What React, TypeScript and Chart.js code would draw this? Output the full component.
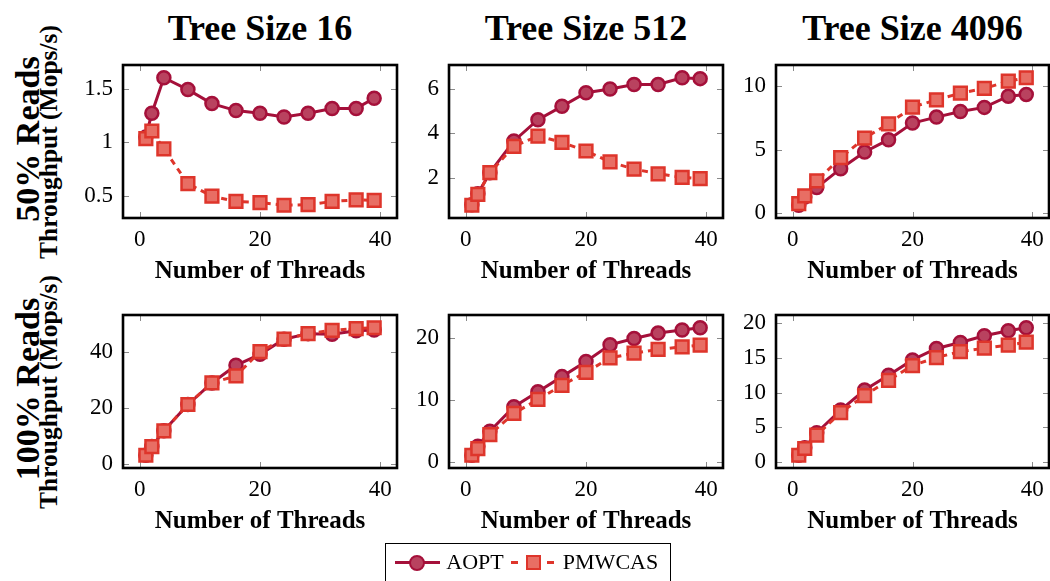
import React, { useEffect, useRef } from 'react';
import { Chart, registerables } from 'chart.js';

Chart.register(...registerables);

// ---------- data ----------
const threads = [1, 2, 4, 8, 12, 16, 20, 24, 28, 32, 36, 39];
const xTicks = [0, 20, 40];
const columnTitles = ['Tree Size 16', 'Tree Size 512', 'Tree Size 4096'];
const rowTitles = ['50% Reads', '100% Reads'];
const yAxisLabel = 'Throughput (Mops/s)';
const xAxisLabel = 'Number of Threads';
const seriesNames = ['AOPT', 'PMWCAS'];

const aopt50r16 = [1.05, 1.27, 1.6, 1.49, 1.36, 1.295, 1.27, 1.235, 1.27, 1.315, 1.315, 1.41];
const pmwcas50r16 = [1.035, 1.105, 0.94, 0.615, 0.5, 0.45, 0.44, 0.415, 0.42, 0.45, 0.465, 0.46];
const aopt50r512 = [0.8, 1.3, 2.24, 3.66, 4.61, 5.21, 5.82, 5.99, 6.19, 6.19, 6.49, 6.45];
const pmwcas50r512 = [0.78, 1.27, 2.24, 3.42, 3.88, 3.6, 3.21, 2.72, 2.4, 2.19, 2.03, 1.97];
const aopt50r4096 = [0.58, 1.24, 1.98, 3.48, 4.8, 5.78, 7.1, 7.57, 8.02, 8.34, 9.23, 9.37];
const pmwcas50r4096 = [0.71, 1.32, 2.51, 4.35, 5.91, 7.04, 8.36, 8.94, 9.47, 9.84, 10.42, 10.69];
const aopt100r16 = [2.98, 6.07, 11.7, 21.1, 28.8, 35.1, 39.0, 44.4, 46.4, 46.2, 47.4, 47.7];
const pmwcas100r16 = [2.98, 6.07, 11.7, 21.1, 28.8, 31.3, 40.0, 44.4, 46.4, 47.6, 48.2, 48.5];
const aopt100r512 = [1.13, 2.58, 5.0, 8.92, 11.34, 13.76, 16.18, 18.87, 19.89, 20.75, 21.24, 21.61];
const pmwcas100r512 = [1.13, 2.2, 4.46, 7.85, 10.1, 12.37, 14.46, 16.77, 17.53, 18.12, 18.55, 18.82];
const aopt100r4096 = [1.0, 2.07, 4.23, 7.5, 10.38, 12.5, 14.71, 16.35, 17.21, 18.17, 18.9, 19.33];
const pmwcas100r4096 = [1.0, 1.97, 3.89, 7.12, 9.57, 11.78, 13.89, 15.05, 15.91, 16.39, 16.83, 17.26];

const yTicks50r16 = [0.5, 1, 1.5];
const yTicks50r512 = [2, 4, 6];
const yTicks50r4096 = [0, 5, 10];
const yTicks100r16 = [0, 20, 40];
const yTicks100r512 = [0, 10, 20];
const yTicks100r4096 = [0, 5, 10, 15, 20];

// ---------- styles / layout ----------
const FONT = "'Liberation Serif', 'Times New Roman', serif";
const AOPT_STROKE = '#A5103A';
const AOPT_FILL = '#B9425F';
const PM_STROKE = '#DE352B';
const PM_FILL = '#E86E64';

const BOX_LEFTS = [123, 449, 776];
const BOX_WIDTHS = [274, 274, 273];
const BOX_TOPS = [65, 315];
const BOX_H = 153;
const YW = 70; // y axis width
const XH = 69; // x axis height
const PT = 30; // top padding
const PR = 16; // right padding

const framePlugin = {
  id: 'frame',
  beforeDatasetsDraw(chart: any) {
    const { ctx, chartArea: a, scales } = chart;
    const x = scales.x;
    const y = scales.y;
    const L = 6;
    ctx.save();
    ctx.strokeStyle = '#8a8a8a';
    ctx.lineWidth = 1;
    ctx.beginPath();
    for (const t of x.ticks) {
      const px = Math.round(x.getPixelForValue(t.value)) + 0.5;
      ctx.moveTo(px, a.bottom);
      ctx.lineTo(px, a.bottom - L);
      ctx.moveTo(px, a.top);
      ctx.lineTo(px, a.top + L);
    }
    for (const t of y.ticks) {
      const py = Math.round(y.getPixelForValue(t.value)) + 0.5;
      ctx.moveTo(a.left, py);
      ctx.lineTo(a.left + L, py);
      ctx.moveTo(a.right, py);
      ctx.lineTo(a.right - L, py);
    }
    ctx.stroke();
    ctx.strokeStyle = '#000';
    ctx.lineWidth = 2.6;
    ctx.strokeRect(a.left, a.top, a.right - a.left, a.bottom - a.top);
    ctx.restore();
  },
};

type PanelProps = {
  aopt: number[];
  pmwcas: number[];
  yTicks: number[];
  boxLeft: number;
  boxTop: number;
  boxWidth: number;
};

function Panel({ aopt, pmwcas, yTicks, boxLeft, boxTop, boxWidth }: PanelProps) {
  const ref = useRef<HTMLCanvasElement>(null);
  const W = YW + boxWidth + PR;
  const H = PT + BOX_H + XH;
  useEffect(() => {
    const all = [...aopt, ...pmwcas];
    const lo = Math.min(...all);
    const hi = Math.max(...all);
    const yPad = (hi - lo) * 0.1;
    const xLo = threads[0];
    const xHi = threads[threads.length - 1];
    const xPad = (xHi - xLo) * 0.1;
    const tickFont = { family: FONT, size: 23, weight: 'normal' as const };
    const chart = new Chart(ref.current as HTMLCanvasElement, {
      type: 'line',
      data: {
        datasets: [
          {
            label: seriesNames[0],
            data: threads.map((t, i) => ({ x: t, y: aopt[i] })),
            borderColor: AOPT_STROKE,
            backgroundColor: AOPT_FILL,
            borderWidth: 3,
            pointStyle: 'circle',
            pointRadius: 6.5,
            pointBorderWidth: 2.5,
            pointBackgroundColor: AOPT_FILL,
            pointBorderColor: AOPT_STROKE,
            tension: 0,
            clip: false as any,
            order: 1,
          },
          {
            label: seriesNames[1],
            data: threads.map((t, i) => ({ x: t, y: pmwcas[i] })),
            borderColor: PM_STROKE,
            backgroundColor: PM_FILL,
            borderWidth: 3,
            borderDash: [6, 5],
            pointStyle: 'rect',
            pointRadius: 9,
            pointBorderWidth: 2.5,
            pointBackgroundColor: PM_FILL,
            pointBorderColor: PM_STROKE,
            tension: 0,
            clip: false as any,
            order: 0,
          },
        ],
      },
      options: {
        animation: false,
        responsive: false,
        maintainAspectRatio: false,
        events: [],
        layout: { padding: { top: PT, right: PR, left: 0, bottom: 0 } },
        plugins: { legend: { display: false }, tooltip: { enabled: false } },
        scales: {
          x: {
            type: 'linear',
            min: xLo - xPad,
            max: xHi + xPad,
            afterBuildTicks: (s: any) => {
              s.ticks = xTicks.map((v) => ({ value: v }));
            },
            afterFit: (s: any) => {
              s.height = XH;
            },
            grid: { display: false, drawTicks: false },
            border: { display: false },
            ticks: {
              padding: 8,
              font: tickFont,
              color: '#000',
              maxRotation: 0,
              autoSkip: false,
              callback: (v: any) => String(v),
            },
            title: {
              display: true,
              text: xAxisLabel,
              color: '#000',
              font: { family: FONT, size: 25, weight: 'bold' },
              padding: { top: 0, bottom: 0 },
            },
          },
          y: {
            type: 'linear',
            min: lo - yPad,
            max: hi + yPad,
            afterBuildTicks: (s: any) => {
              s.ticks = yTicks.map((v) => ({ value: v }));
            },
            afterFit: (s: any) => {
              s.width = YW;
            },
            grid: { display: false, drawTicks: false },
            border: { display: false },
            ticks: {
              padding: 10,
              font: tickFont,
              color: '#000',
              autoSkip: false,
              callback: (v: any) => String(v),
            },
          },
        },
      } as any,
      plugins: [framePlugin],
    });
    return () => chart.destroy();
  }, []);
  return (
    <canvas
      ref={ref}
      width={W}
      height={H}
      style={{ position: 'absolute', left: boxLeft - YW, top: boxTop - PT, width: W, height: H }}
    />
  );
}

const panels = [
  { aopt: aopt50r16, pmwcas: pmwcas50r16, yTicks: yTicks50r16, row: 0, col: 0 },
  { aopt: aopt50r512, pmwcas: pmwcas50r512, yTicks: yTicks50r512, row: 0, col: 1 },
  { aopt: aopt50r4096, pmwcas: pmwcas50r4096, yTicks: yTicks50r4096, row: 0, col: 2 },
  { aopt: aopt100r16, pmwcas: pmwcas100r16, yTicks: yTicks100r16, row: 1, col: 0 },
  { aopt: aopt100r512, pmwcas: pmwcas100r512, yTicks: yTicks100r512, row: 1, col: 1 },
  { aopt: aopt100r4096, pmwcas: pmwcas100r4096, yTicks: yTicks100r4096, row: 1, col: 2 },
];

const centered = (x: number, y: number, extra: React.CSSProperties = {}, rotate = 0): React.CSSProperties => ({
  position: 'absolute',
  left: x,
  top: y,
  transform: `translate(-50%, -50%) rotate(${rotate}deg)`,
  whiteSpace: 'nowrap',
  lineHeight: 1,
  fontFamily: FONT,
  color: '#000',
  ...extra,
});

export default function App() {
  return (
    <div
      style={{
        position: 'fixed',
        left: 0,
        top: 0,
        width: 1050,
        height: 581,
        overflow: 'hidden',
        background: '#fff',
      }}
    >
      {columnTitles.map((t, i) => (
        <div key={t} style={centered(BOX_LEFTS[i] + BOX_WIDTHS[i] / 2, 27.5, { fontSize: 36, fontWeight: 'bold' })}>
          {t}
        </div>
      ))}
      {rowTitles.map((t, r) => (
        <React.Fragment key={t}>
          <div style={centered(27.5, BOX_TOPS[r] + BOX_H / 2 - 3, { fontSize: 34, fontWeight: 'bold' }, -90)}>{t}</div>
          <div style={centered(49, BOX_TOPS[r] + BOX_H / 2, { fontSize: 25.5, fontWeight: 'bold' }, -90)}>
            {yAxisLabel}
          </div>
        </React.Fragment>
      ))}
      {panels.map((p, i) => (
        <Panel
          key={i}
          aopt={p.aopt}
          pmwcas={p.pmwcas}
          yTicks={p.yTicks}
          boxLeft={BOX_LEFTS[p.col]}
          boxTop={BOX_TOPS[p.row]}
          boxWidth={BOX_WIDTHS[p.col]}
        />
      ))}
      {/* legend */}
      <div
        style={{
          position: 'absolute',
          left: 385,
          top: 543,
          width: 286,
          height: 44,
          border: '1px solid #000',
          boxSizing: 'border-box',
        }}
      />
      <div style={{ position: 'absolute', left: 395, top: 561, width: 45, height: 3, background: AOPT_STROKE }} />
      <div
        style={{
          position: 'absolute',
          left: 417 - 8,
          top: 562.5 - 8,
          width: 16,
          height: 16,
          borderRadius: '50%',
          boxSizing: 'border-box',
          border: `2.5px solid ${AOPT_STROKE}`,
          background: AOPT_FILL,
        }}
      />
      <div style={centered(475, 562, { fontSize: 22 })}>{seriesNames[0]}</div>
      <div style={{ position: 'absolute', left: 511, top: 561, width: 7, height: 3, background: PM_STROKE }} />
      <div style={{ position: 'absolute', left: 547, top: 561, width: 7, height: 3, background: PM_STROKE }} />
      <div
        style={{
          position: 'absolute',
          left: 533 - 7.5,
          top: 562.5 - 7.5,
          width: 15,
          height: 15,
          boxSizing: 'border-box',
          border: `2.5px solid ${PM_STROKE}`,
          background: PM_FILL,
        }}
      />
      <div style={centered(610.5, 562, { fontSize: 22 })}>{seriesNames[1]}</div>
    </div>
  );
}
